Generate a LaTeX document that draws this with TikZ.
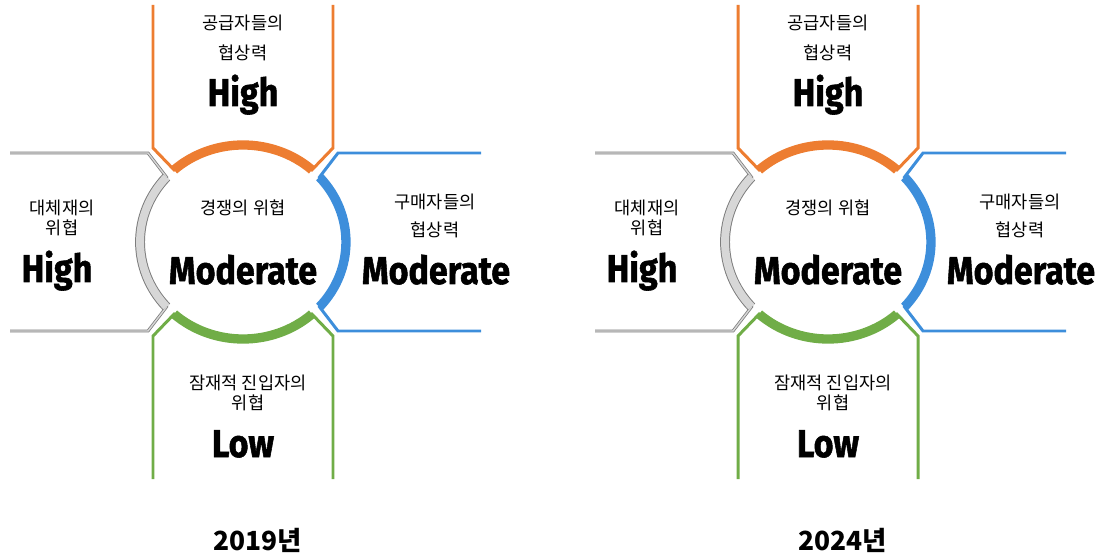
\documentclass[tikz,border=0pt]{standalone}
\usepackage{fontspec}
\usepackage{graphicx}
\setmainfont{Noto Sans CJK KR}
\newfontfamily\valfont[BoldFeatures={FakeBold=1.5}]{Fira Sans}
\definecolor{supplyorange}{RGB}{237,125,49}
\definecolor{buyerblue}{RGB}{61,142,219}
\definecolor{entrygreen}{RGB}{112,173,71}
\definecolor{substgray}{RGB}{125,125,125}
\definecolor{substfill}{RGB}{215,215,215}
\newcommand{\rating}[1]{\scalebox{0.88}[1]{#1}}

\begin{document}
\begin{tikzpicture}[x=0.02cm, y=0.02cm]
    % Define styles
    \tikzstyle{bracket} = [line width=1.7pt, line join=miter]
    \tikzstyle{ring} = [line width=5.3pt]
    \tikzstyle{greybracket} = [draw=substgray, double=substfill, line width=0.45pt, double distance=0.8pt]
    \tikzstyle{greyring} = [draw=substgray, double=substfill, line width=0.55pt, double distance=4.5pt]
    \tikzstyle{label} = [align=center, font=\fontsize{10}{11.3}\selectfont, inner sep=0pt]
    \tikzstyle{value} = [anchor=base, font=\valfont\bfseries\fontsize{22}{24}\selectfont, inner sep=0pt]
    \tikzstyle{year} = [font=\bfseries\fontsize{15}{18}\selectfont, inner sep=0pt]

    \useasboundingbox (0,0) rectangle (1101,-560);

    \foreach \px/\yr in {243/2019, 828/2024} {
    \begin{scope}[shift={(\px,-242)}]
        % Brackets
        \draw [bracket, supplyorange] (-90,237) -- (-90,94) -- (-68.9,72.1)
            arc [start angle=132, end angle=48, x radius=103, y radius=97] -- (90,94) -- (90,237);
        \draw [bracket, buyerblue] (238,89) -- (95,89) -- (76.5,64.9)
            arc [start angle=42, end angle=-42, x radius=103, y radius=97] -- (95,-89) -- (238,-89);
        \draw [bracket, entrygreen] (-90,-237) -- (-90,-94) -- (-68.9,-72.1)
            arc [start angle=228, end angle=312, x radius=103, y radius=97] -- (90,-94) -- (90,-237);
        \draw [greybracket] (-233,89) -- (-95,89) -- (-76.5,64.9)
            arc [start angle=138, end angle=222, x radius=103, y radius=97] -- (-95,-89) -- (-233,-89);

        % Ring
        \draw [ring, supplyorange] (-68.9,72.1) arc [start angle=132, end angle=48, x radius=103, y radius=97];
        \draw [ring, buyerblue] (76.5,64.9) arc [start angle=42, end angle=-42, x radius=103, y radius=97];
        \draw [ring, entrygreen] (-68.9,-72.1) arc [start angle=228, end angle=312, x radius=103, y radius=97];
        \draw [greyring] (-76.5,64.9) arc [start angle=138, end angle=222, x radius=103, y radius=97];

        % Labels
        \node (supply\yr) [label] at (0,204) {공급자들의\\[5.5pt]협상력};
        \node (supplyval\yr) [value] at (0,136) {\rating{High}};
        \node (rivalry\yr) [label] at (0,34) {경쟁의 위협};
        \node (rivalryval\yr) [value] at (0,-42) {\rating{Moderate}};
        \node (subst\yr) [label] at (-181,24) {대체재의\\위협};
        \node (substval\yr) [value] at (-186,-40) {\rating{High}};
        \node (buyer\yr) [label] at (192,26) {구매자들의\\[5pt]협상력};
        \node (buyerval\yr) [value] at (193,-42) {\rating{Moderate}};
        \node (entry\yr) [label] at (5,-151) {잠재적 진입자의\\위협};
        \node (entryval\yr) [value] at (0,-215) {\rating{Low}};
        \node (year\yr) [year] at (15,-298) {\yr{}년};
    \end{scope}
    }
\end{tikzpicture}
\end{document}
